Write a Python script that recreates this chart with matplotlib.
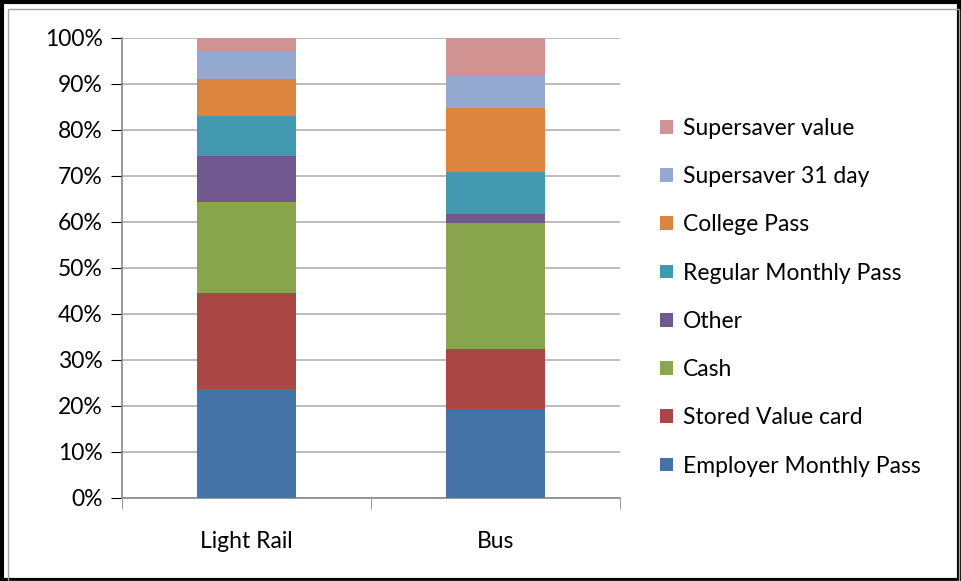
import numpy as np
import matplotlib.pyplot as plt
from matplotlib.patches import Rectangle, Patch
from matplotlib.ticker import FuncFormatter

plt.rcParams['font.family'] = ['Lato', 'DejaVu Sans']

categories = ['Light Rail', 'Bus']
series = ['Employer Monthly Pass', 'Stored Value card', 'Cash', 'Other',
          'Regular Monthly Pass', 'College Pass', 'Supersaver 31 day',
          'Supersaver value']
employer = [23.7, 19.3]
stored_value = [20.9, 13.1]
cash = [19.8, 27.3]
other = [9.8, 2.0]
regular = [8.8, 9.1]
college = [8.1, 14.0]
ss31 = [5.9, 7.2]
ss_value = [3.0, 8.0]
values = [employer, stored_value, cash, other, regular, college, ss31, ss_value]

colors = ['#4572A7', '#AA4643', '#89A54E', '#71588F',
          '#4198AF', '#DB843D', '#93A9CF', '#D19392']

fig = plt.figure(figsize=(9.61, 5.81), dpi=100)
ax = fig.add_axes([0.127, 0.143, 0.518, 0.792])

x = np.arange(len(categories))
bottom = np.zeros(len(categories))
for name, vals, c in zip(series, values, colors):
    ax.bar(x, vals, 0.4, bottom=bottom, color=c, label=name, zorder=3)
    bottom += np.array(vals)

ax.set_xlim(-0.5, 1.5)
ax.set_ylim(0, 100)
ax.set_yticks(np.arange(0, 101, 10))
ax.yaxis.set_major_formatter(FuncFormatter(lambda v, p: f'{v:.0f}%'))
ax.yaxis.grid(True, color='#B0B0B0', linewidth=1.2, zorder=0)
ax.set_xticks(x)
ax.set_xticklabels(categories)
ax.set_xticks([-0.5, 0.5, 1.5], minor=True)
ax.tick_params(axis='x', which='major', length=0, pad=24)
ax.tick_params(axis='x', which='minor', length=8, color='#888888', direction='out')
ax.tick_params(axis='y', length=8, color='#888888', direction='out', pad=6)
ax.tick_params(labelsize=16.5, colors='black')
for s in ['top', 'right']:
    ax.spines[s].set_visible(False)
for s in ['left', 'bottom']:
    ax.spines[s].set_color('#888888')
    ax.spines[s].set_linewidth(1.2)

handles = [Patch(facecolor=c, label=n) for n, c in zip(series, colors)][::-1]
fig.legend(handles=handles, loc='upper left', bbox_to_anchor=(0.675, 0.817),
           frameon=False, fontsize=16.5, handlelength=0.55, handleheight=0.55,
           labelspacing=1.19, handletextpad=0.45, borderpad=0)

fig.add_artist(Rectangle((0.002, 0.002), 0.996, 0.994, transform=fig.transFigure,
                         fill=False, edgecolor='black', linewidth=3))
fig.add_artist(Rectangle((0.008, 0.0), 0.99, 0.985, transform=fig.transFigure,
                         fill=False, edgecolor='#A0A0A0', linewidth=1))

fig.savefig('out.png', dpi=100)
